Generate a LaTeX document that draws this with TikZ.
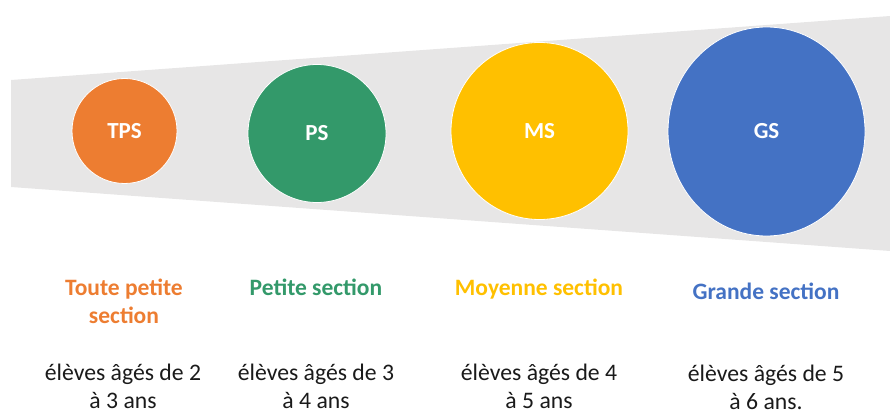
\documentclass[tikz,border=0pt]{standalone}
\usepackage{fontspec}
\setmainfont{Carlito}
\usetikzlibrary{shapes.geometric}
\definecolor{tpsorange}{HTML}{ED7D31}
\definecolor{psgreen}{HTML}{33996A}
\definecolor{msyellow}{HTML}{FFC000}
\definecolor{gsblue}{HTML}{4472C4}
\definecolor{wedgegray}{HTML}{E7E6E6}
\definecolor{bodyblack}{HTML}{1A1A1A}
\begin{document}
\begin{tikzpicture}[x=1pt,y=-1pt,
  bubble/.style={circle,draw=white,line width=0.8pt,inner sep=0pt,
    text=white,font=\bfseries\fontsize{23}{28}\selectfont},
  heading/.style={anchor=base,align=center,
    font=\bfseries\fontsize{23.5}{28}\selectfont},
  ages/.style={anchor=base,align=center,text=bodyblack,inner sep=0pt,
    font=\fontsize{23.7}{28}\selectfont}]
\useasboundingbox (0,0) rectangle (890,414);
% widening grey band behind the circles
\fill[wedgegray] (11,80) -- (890,16) -- (890,251) -- (11,187) -- cycle;
% the four classes
\node[bubble,fill=tpsorange,minimum size=105] (tps) at (124.5,131) {TPS};
\node[bubble,fill=psgreen,minimum size=138] (ps) at (317,133.5) {PS};
\node[bubble,fill=msyellow,minimum size=177] (ms) at (539.5,131) {MS};
\node[bubble,ellipse,fill=gsblue,minimum width=197,minimum height=209] (gs) at (766.5,131.5) {GS};
% section names (base = baseline of the last line)
\node[heading,text=tpsorange] (tpsname) at (124,323) {Toute petite\\section};
\node[heading,text=psgreen] (psname) at (316,295) {Petite section};
\node[heading,text=msyellow] (msname) at (539,295) {Moyenne section};
\node[heading,text=gsblue] (gsname) at (766,299) {Grande section};
% ages
\node[ages] (tpsage) at (123,408.5) {élèves âgés de 2\\à 3 ans};
\node[ages] (psage) at (316,408.5) {élèves âgés de 3\\à 4 ans};
\node[ages] (msage) at (539,408.5) {élèves âgés de 4\\à 5 ans};
\node[ages] (gsage) at (766,409) {élèves âgés de 5\\à 6 ans.};
\end{tikzpicture}
\end{document}
